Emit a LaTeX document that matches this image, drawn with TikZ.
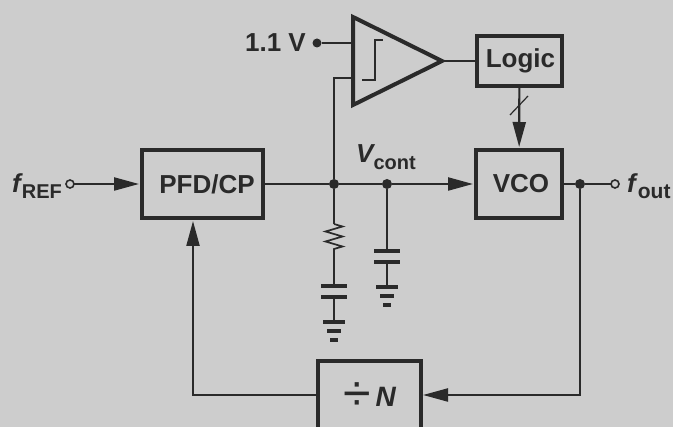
\documentclass[tikz,border=0pt]{standalone}
\usepackage{fontspec}
\setmainfont{Liberation Sans}
\usepackage{xcolor}
\usetikzlibrary{arrows.meta, positioning, decorations.pathmorphing, calc}
\definecolor{ink}{HTML}{2A2A2A}
\definecolor{panel}{HTML}{CDCDCD}

\begin{document}
\begin{tikzpicture}[
  x=1pt, y=-1pt,
  node distance=10pt and 10pt,
  every node/.style={text=ink, font=\fontsize{26}{28}\selectfont\bfseries},
  block/.style={draw=ink, line width=4pt, inner sep=0pt, outer sep=0pt},
  wire/.style={draw=ink, line width=2.2pt},
  flow/.style={wire, shorten >=3pt, -{Triangle[length=25pt, width=13pt]}},
  plate/.style={draw=ink, line width=4pt},
  dotj/.style={circle, fill=ink, inner sep=0pt, outer sep=0pt, minimum size=10pt},
  pin/.style={circle, draw=ink, fill=panel, line width=1.6pt, inner sep=0pt, outer sep=0pt, minimum size=8pt}
]
\fill[panel] (0,0) rectangle (673,427);
\useasboundingbox (0,0) rectangle (673,427);

% blocks
\node[block, minimum width=121pt, minimum height=68pt] (pfd) at (202.5,184) {\hspace*{9pt}PFD/CP};
\node[block, minimum width=86pt, minimum height=68pt] (vco) at (519,184) {\hspace*{4pt}VCO};
\node[block, minimum width=85pt, minimum height=50pt] (logic) at (519.5,61) {\hspace*{2pt}\raisebox{-3pt}{Logic}};
\node[block, minimum width=103pt, minimum height=71pt] (div) at (369.5,397) {\fontsize{50}{50}\selectfont\mdseries\raisebox{-4pt}{÷}\hspace{5pt}\fontsize{28}{28}\selectfont\bfseries\itshape N};

% comparator
\coordinate (cmptop) at (353,17);
\coordinate (cmpbot) at (353,105);
\coordinate (cmpout) at (442,61);
\coordinate (cmpp) at (353,43);
\coordinate (cmpn) at (353,78);
\draw[draw=ink, line width=4pt, line join=miter] (cmptop) -- (cmpout) -- (cmpbot) -- cycle;
\draw[wire, line width=1.6pt] (362,80) -- (375,80) -- (375,40) -- (383,40);

% nodes on the wires
\node[pin] (fin) at (70,184) {};
\node[pin] (fo) at (615,184) {};
\node[dotj] (j1) at (334,184) {};
\node[dotj] (j2) at (387,184) {};
\node[dotj] (j3) at (580,184) {};
\node[dotj, minimum size=9pt] (ref) at (317,43) {};
\coordinate (fbr) at (580,395);
\coordinate (fbl) at (193,395);

% labels
\node[anchor=base west, inner sep=0pt] (lfref) at (12,193) {\itshape f\kern1pt\upshape\raisebox{-6pt}{\fontsize{20}{20}\selectfont REF}};
\node[anchor=base west, inner sep=0pt] (lfout) at (627,193) {\itshape f\kern2pt\upshape\raisebox{-6pt}{\fontsize{21}{21}\selectfont out}};
\node[anchor=base east, inner sep=0pt] (lref) at (306,52) {1.1 V};
\node[anchor=base west, inner sep=0pt] (lvc) at (356,163) {\itshape V\kern0pt\upshape\raisebox{-7pt}{\fontsize{20}{20}\selectfont cont}};

% signal path
\draw[flow] (fin) -- (pfd);
\draw[wire] (pfd) -- (j1);
\draw[wire] (j1) -- (j2);
\draw[flow] (j2) -- (vco);
\draw[wire] (vco) -- (j3);
\draw[wire] (j3) -- (fo);
\draw[wire] (j1) -- (334,78) -- (cmpn);
\draw[wire] (ref) -- (cmpp);
\draw[wire] (cmpout) -- (logic);
\draw[flow] (logic) -- (vco);
\draw[wire, line width=1.2pt] (510,115) -- (528,96);

% feedback
\draw[flow, shorten >=2pt] (j3) |- ($(div.east)+(0,-2)$);
\draw[flow] (div.west |- fbl) -- (fbl) -- (pfd.south -| fbl);

% loop filter
\coordinate (rtop) at (334,224);
\coordinate (rbot) at (334,252);
\draw[wire] (j1) -- (rtop);
\draw[wire, line width=1.7pt, decoration={zigzag, segment length=10pt, amplitude=8.5pt}, decorate] (rtop) -- (rbot);
\draw[wire] (rbot) -- (334,286);
\draw[wire] (j2) -- (387,251);
\foreach \x/\y in {334/286, 387/251} {
  \draw[plate] (\x-13,\y) -- (\x+13,\y);
  \draw[plate] (\x-13,\y+11) -- (\x+13,\y+11);
  \draw[wire] (\x,\y+11) -- (\x,\y+36);
  \draw[plate] (\x-11,\y+36) -- (\x+11,\y+36);
  \draw[plate] (\x-7,\y+45) -- (\x+7,\y+45);
  \draw[plate] (\x-4,\y+54) -- (\x+4,\y+54);
}
\end{tikzpicture}
\end{document}
